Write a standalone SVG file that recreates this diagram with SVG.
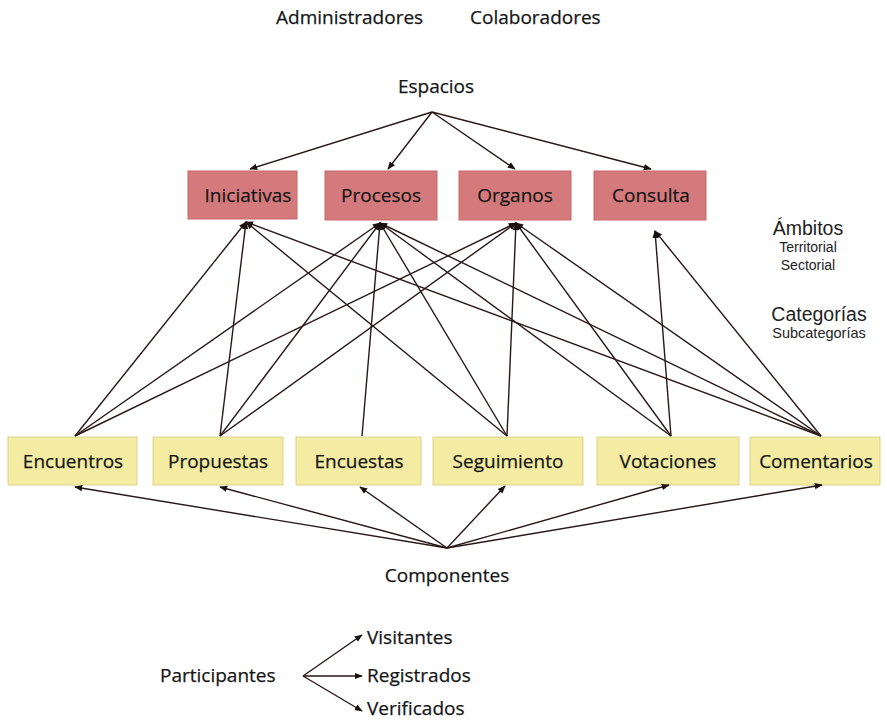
<svg xmlns="http://www.w3.org/2000/svg" width="887" height="721" viewBox="0 0 887 721">
<style>
.lbl{font-family:"Open Sans","Noto Sans",sans-serif;font-size:19px;fill:#161616;stroke:#161616;stroke-width:0.25}
.box{font-family:"Open Sans","Noto Sans",sans-serif;font-size:19px;fill:#161616;stroke:#161616;stroke-width:0.25;text-anchor:middle}
.hv{font-family:"Liberation Sans",Arial,sans-serif;fill:#222;text-anchor:middle}
.red{fill:#d57a7c;stroke:#c86668;stroke-width:1}
.yel{fill:#f3eca2;stroke:#dcd38e;stroke-width:1}
.c{stroke:#2a1717;stroke-width:1.4;fill:none;marker-end:url(#ah)}
</style>
<defs>
<marker id="ah" viewBox="0 0 10 10" refX="9" refY="5" markerWidth="8" markerHeight="8" markerUnits="userSpaceOnUse" orient="auto">
<path d="M0,1 L10,5 L0,9 Z" fill="#1a1010"/>
</marker>
</defs>
<rect width="887" height="721" fill="#ffffff"/>

<g id="administradores"><text class="lbl" x="276" y="24">Administradores</text></g>
<g id="colaboradores"><text class="lbl" x="470" y="24">Colaboradores</text></g>
<g id="espacios"><text class="lbl" x="436" y="93" text-anchor="middle">Espacios</text></g>

<g id="iniciativas"><rect class="red" x="188" y="171" width="109" height="48"/><text class="box" x="248" y="202">Iniciativas</text></g>
<g id="procesos"><rect class="red" x="325" y="171" width="112" height="49"/><text class="box" x="381" y="202">Procesos</text></g>
<g id="organos"><rect class="red" x="459" y="171" width="112" height="49"/><text class="box" x="515" y="202">Organos</text></g>
<g id="consulta"><rect class="red" x="594" y="171" width="112" height="49"/><text class="box" x="651" y="202">Consulta</text></g>

<g id="ambitos">
<text class="hv" x="808" y="235" font-size="19.5">Ámbitos</text>
<text class="hv" x="808" y="252" font-size="14">Territorial</text>
<text class="hv" x="808" y="270" font-size="14">Sectorial</text>
</g>
<g id="categorias">
<text class="hv" x="819" y="321" font-size="19.5">Categorías</text>
<text class="hv" x="819" y="338" font-size="14.5">Subcategorías</text>
</g>

<g id="encuentros"><rect class="yel" x="8" y="437" width="129" height="48"/><text class="box" x="73" y="468">Encuentros</text></g>
<g id="propuestas"><rect class="yel" x="153" y="437" width="130" height="48"/><text class="box" x="218" y="468">Propuestas</text></g>
<g id="encuestas"><rect class="yel" x="296" y="437" width="125" height="48"/><text class="box" x="359" y="468">Encuestas</text></g>
<g id="seguimiento"><rect class="yel" x="433" y="437" width="150" height="48"/><text class="box" x="508" y="468">Seguimiento</text></g>
<g id="votaciones"><rect class="yel" x="597" y="437" width="142" height="48"/><text class="box" x="668" y="468">Votaciones</text></g>
<g id="comentarios"><rect class="yel" x="750" y="437" width="130" height="48"/><text class="box" x="816" y="468">Comentarios</text></g>

<g id="componentes"><text class="lbl" x="447" y="582" text-anchor="middle">Componentes</text></g>

<g id="participantes"><text class="lbl" x="160" y="682">Participantes</text></g>
<g id="visitantes"><text class="lbl" x="367" y="644">Visitantes</text></g>
<g id="registrados"><text class="lbl" x="367" y="682">Registrados</text></g>
<g id="verificados"><text class="lbl" x="367" y="715">Verificados</text></g>

<g id="connectors">
<path class="c" d="M432,112 L250,169"/>
<path class="c" d="M432,112 L388,169"/>
<path class="c" d="M432,112 L515,169"/>
<path class="c" d="M432,112 L651,169"/>
<path class="c" d="M75,436 L246,222"/>
<path class="c" d="M75,436 L380,223"/>
<path class="c" d="M75,436 L516,223"/>
<path class="c" d="M220,436 L246,222"/>
<path class="c" d="M220,436 L380,223"/>
<path class="c" d="M220,436 L516,223"/>
<path class="c" d="M362,436 L380,223"/>
<path class="c" d="M507,436 L246,222"/>
<path class="c" d="M507,436 L380,223"/>
<path class="c" d="M507,436 L516,223"/>
<path class="c" d="M671,436 L380,223"/>
<path class="c" d="M671,436 L516,223"/>
<path class="c" d="M671,436 L655,231"/>
<path class="c" d="M821,436 L246,222"/>
<path class="c" d="M821,436 L380,223"/>
<path class="c" d="M821,436 L516,223"/>
<path class="c" d="M821,436 L655,231"/>
<path class="c" d="M447,548 L75,487"/>
<path class="c" d="M447,548 L220,487"/>
<path class="c" d="M447,548 L360,487"/>
<path class="c" d="M447,548 L505,486"/>
<path class="c" d="M447,548 L669,485"/>
<path class="c" d="M447,548 L822,485"/>
<path class="c" d="M303,676 L362,635"/>
<path class="c" d="M303,676 L362,676"/>
<path class="c" d="M303,676 L362,711"/>
</g>
</svg>
